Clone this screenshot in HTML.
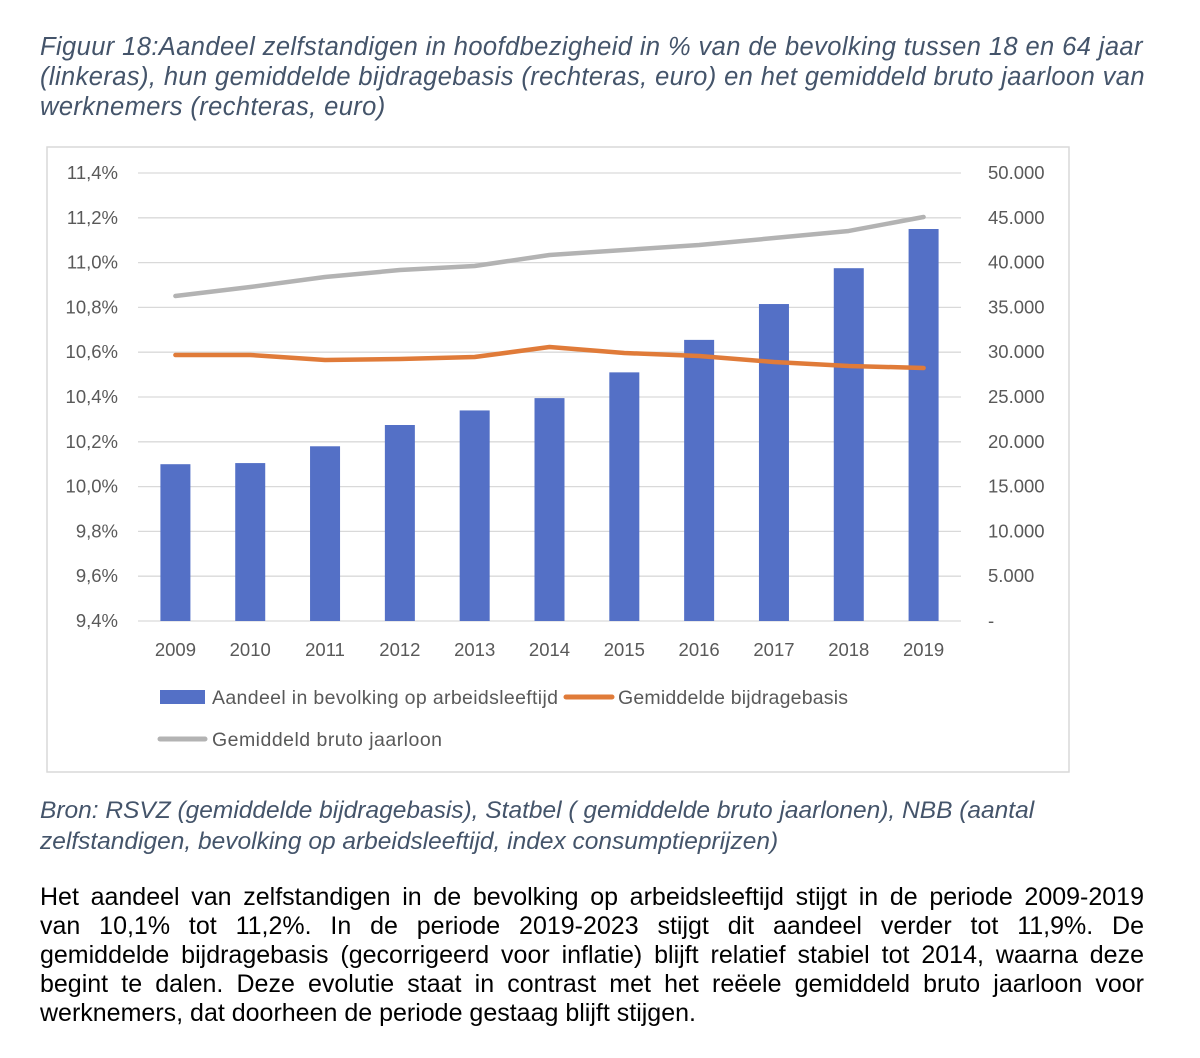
<!DOCTYPE html>
<html><head><meta charset="utf-8">
<style>
body{margin:0;width:1200px;height:1058px;background:#fff;font-family:"Liberation Sans",sans-serif;position:relative;overflow:hidden}
.title{position:absolute;left:40px;top:32px;width:1120px;font-style:italic;color:#44546a;font-size:25.5px;line-height:30px;letter-spacing:0.4px}
.src{position:absolute;left:40px;top:795px;width:1110px;font-style:italic;color:#44546a;font-size:24.5px;line-height:31px}
.body{position:absolute;left:40px;top:883px;width:1104px;color:#000;font-size:25px;line-height:29px}
.body div{text-align:justify;text-align-last:justify;white-space:nowrap}
.body div.last{text-align-last:left}
#chart{position:absolute;left:0;top:0}
</style></head><body>
<div class="title">Figuur 18:Aandeel zelfstandigen in hoofdbezigheid in % van de bevolking tussen 18 en 64 jaar (linkeras), hun gemiddelde bijdragebasis (rechteras, euro) en het gemiddeld bruto jaarloon van werknemers (rechteras, euro)</div>
<svg id="chart" width="1200" height="1058">
<rect x="47" y="147" width="1022" height="625" fill="#fff" stroke="#d9d9d9" stroke-width="1.5"/>
<g id="grid"></g><g id="bars"></g><g id="lines"></g><g id="axes"></g>
<g font-size="19.5" fill="#595959">
<rect x="160" y="690" width="45" height="14" fill="#5470c6"/>
<text x="212" y="704" textLength="346">Aandeel in bevolking op arbeidsleeftijd</text>
<line x1="566" y1="697" x2="612" y2="697" stroke="#e07b39" stroke-width="5" stroke-linecap="round"/>
<text x="618" y="704" textLength="230">Gemiddelde bijdragebasis</text>
<line x1="160" y1="739" x2="205" y2="739" stroke="#b3b3b3" stroke-width="5" stroke-linecap="round"/>
<text x="212" y="746" textLength="230">Gemiddeld bruto jaarloon</text>
</g>
</svg>
<div class="src">Bron: RSVZ (gemiddelde bijdragebasis), Statbel ( gemiddelde bruto jaarlonen), NBB (aantal zelfstandigen, bevolking op arbeidsleeftijd, index consumptieprijzen)</div>
<div class="body">
<div>Het aandeel van zelfstandigen in de bevolking op arbeidsleeftijd stijgt in de periode 2009-2019</div>
<div>van 10,1% tot 11,2%. In de periode 2019-2023 stijgt dit aandeel verder tot 11,9%. De</div>
<div>gemiddelde bijdragebasis (gecorrigeerd voor inflatie) blijft relatief stabiel tot 2014, waarna deze</div>
<div>begint te dalen. Deze evolutie staat in contrast met het reëele gemiddeld bruto jaarloon voor</div>
<div class="last">werknemers, dat doorheen de periode gestaag blijft stijgen.</div>
</div>
<script>
const years=["2009","2010","2011","2012","2013","2014","2015","2016","2017","2018","2019"];
const share=[10.10,10.105,10.18,10.275,10.34,10.395,10.51,10.655,10.815,10.975,11.15];
const base=[29690,29690,29130,29240,29460,30580,29910,29580,28910,28460,28240];
const wage=[36270,37280,38390,39170,39620,40850,41410,41960,42740,43530,45090];
const leftTicks=["11,4%","11,2%","11,0%","10,8%","10,6%","10,4%","10,2%","10,0%","9,8%","9,6%","9,4%"];
const rightTicks=["50.000","45.000","40.000","35.000","30.000","25.000","20.000","15.000","10.000","5.000","-"];
(function(){
const NS="http://www.w3.org/2000/svg";
const yTop=173,yBot=621,x0=138,x1=961;
const yL=v=>yBot-(v-9.4)/2.0*(yBot-yTop);
const yR=v=>yBot-v/50000*(yBot-yTop);
const xC=i=>x0+(x1-x0)*(i+0.5)/years.length;
function mk(t,a,p){const e=document.createElementNS(NS,t);for(const k in a)e.setAttribute(k,a[k]);p.appendChild(e);return e;}
const grid=document.getElementById('grid'),bars=document.getElementById('bars'),lines=document.getElementById('lines'),axes=document.getElementById('axes');
leftTicks.forEach((t,i)=>{
 const y=yTop+i*(yBot-yTop)/(leftTicks.length-1);
 const g=mk('line',{x1:x0,x2:x1,y1:y,y2:y,stroke:'#d9d9d9','stroke-width':1.3},grid);
 
 
 const a=mk('text',{x:118,y:y+6,'text-anchor':'end','font-size':18.5,fill:'#595959'},axes);a.textContent=t;
 
 
 const b=mk('text',{x:988,y:y+6,'font-size':18.5,fill:'#595959'},axes);b.textContent=rightTicks[i];
 
 
});
years.forEach((yr,i)=>{
 const y=yL(share[i]);
 const r=mk('rect',{x:xC(i)-15,y:y,width:30,height:yBot-y,fill:'#5470c6'},bars);
 
 
 const t=mk('text',{x:xC(i),y:656,'text-anchor':'middle','font-size':18.5,fill:'#595959'},axes);t.textContent=yr;
 
 
});
function line(arr,col,name){
 const p=mk('polyline',{points:arr.map((v,i)=>xC(i)+','+yR(v)).join(' '),fill:'none',stroke:col,'stroke-width':4.5,'stroke-linecap':'round','stroke-linejoin':'round'},lines);
 
 
}
line(wage,'#b3b3b3','wage-line');
line(base,'#e07b39','base-line');
})();
</script>
</body></html>
